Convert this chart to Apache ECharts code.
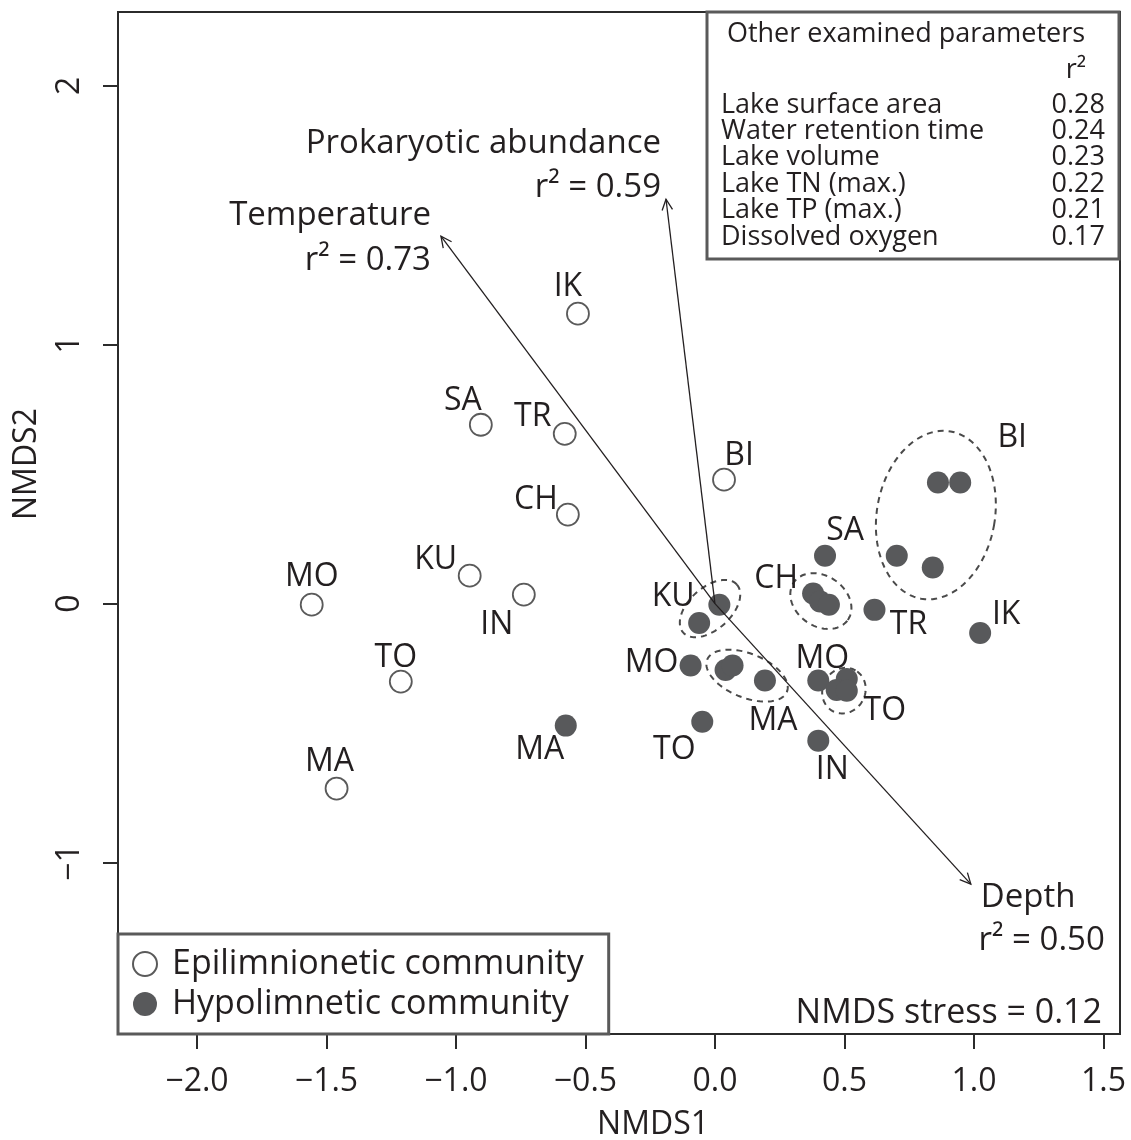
<!DOCTYPE html>
<html><head><meta charset="utf-8">
<script src="https://cdn.jsdelivr.net/npm/echarts@6/dist/echarts.min.js"></script>
<style>html,body{margin:0;padding:0;background:#fff}#c{width:1131px;height:1140px}</style>
</head><body><div id="c"></div>
<script>
// ---------------- data ----------------
const xTicks = [-2.0, -1.5, -1.0, -0.5, 0.0, 0.5, 1.0, 1.5];
const yTicks = [-1, 0, 1, 2];

const epiLakes = ['IK', 'SA', 'TR', 'CH', 'KU', 'IN', 'MO', 'TO', 'MA', 'BI'];
const epiX = [-0.529, -0.904, -0.580, -0.568, -0.947, -0.738, -1.557, -1.213, -1.461, 0.035];
const epiY = [1.120, 0.691, 0.656, 0.344, 0.108, 0.035, -0.004, -0.301, -0.714, 0.479];

const hypoLakes = ['BI','BI','BI','BI','SA','CH','CH','CH','TR','IK','KU','KU','MO','MA','MA','MA','MO','TO','TO','TO','TO','IN','MA'];
const hypoX = [0.861, 0.947, 0.702, 0.841, 0.425, 0.379, 0.406, 0.440, 0.616, 1.024, 0.017, -0.061, -0.094, 0.041, 0.068, 0.193, 0.399, 0.509, 0.470, 0.509, -0.049, 0.399, -0.576];
const hypoY = [0.468, 0.468, 0.185, 0.140, 0.185, 0.039, 0.008, -0.004, -0.024, -0.113, -0.004, -0.075, -0.239, -0.256, -0.239, -0.297, -0.297, -0.291, -0.333, -0.336, -0.456, -0.529, -0.471];

// fitted environmental vectors
const vecNames = ['Temperature', 'Prokaryotic abundance', 'Depth'];
const vecR2 = ['0.73', '0.59', '0.50'];
const vecX = [-1.058, -0.189, 0.988];
const vecY = [1.419, 1.562, -1.083];

// replicate ellipses (centre x, centre y, semi-axis a, semi-axis b, rotation in degrees)
const ellCx = [0.853, 0.409, -0.019, 0.124, 0.498];
const ellCy = [0.342, 0.010, -0.019, -0.278, -0.336];
const ellA  = [0.228, 0.127, 0.139, 0.166, 0.090];
const ellB  = [0.328, 0.097, 0.081, 0.085, 0.082];
const ellRot = [-10, -35, 42, -22, 60];

// other examined parameters
const otherParams = ['Lake surface area', 'Water retention time', 'Lake volume', 'Lake TN (max.)', 'Lake TP (max.)', 'Dissolved oxygen'];
const otherR2 = ['0.28', '0.24', '0.23', '0.22', '0.21', '0.17'];
const stressText = 'NMDS stress = 0.12';

// ---------------- layout (pixel offsets for labels) ----------------
const TEXT_DY = 4;
const epiLabelOffset = [[-10,-31],[-18,-28],[-32,-21],[-32,-19],[-34,-20],[-27,26],[0,-32],[-5,-28],[-7,-31],[15,-28]];
const hypoLabelOffset = {1:[52,-49],4:[20,-29],5:[-37,-19],8:[34,11],9:[26,-22],11:[-26,-30],12:[-39,-7],15:[8,36],16:[4,-26],19:[38,16],20:[-28,24],21:[14,25],22:[-26,20]};
const vecNameOffset = [[-10,-21,'right'],[-5,-56,'right'],[10,14,'left']];
const vecR2Offset = [[-10,24,'right'],[-5,-12,'right'],[134,57,'right']];

const FONT = '"Open Sans", "Noto Sans", sans-serif';
const TXT = '#231f20';
const BIG = 33;

const chart = echarts.init(document.getElementById('c'), null, {renderer: 'canvas'});

const epiData = epiX.map((x, i) => ({
  value: [x, epiY[i]], name: epiLakes[i],
  label: {show: true, offset: [epiLabelOffset[i][0], epiLabelOffset[i][1] + TEXT_DY]}
}));
const hypoData = hypoX.map((x, i) => {
  const off = hypoLabelOffset[i];
  return {value: [x, hypoY[i]], name: hypoLakes[i],
    label: off ? {show: true, offset: [off[0], off[1] + TEXT_DY]} : {show: false}};
});

const pointLabel = {
  position: 'inside', formatter: p => p.name, color: TXT,
  fontSize: 32, fontFamily: FONT
};

const fmtX = v => (v < 0 ? '\u2212' : '') + Math.abs(v).toFixed(1);
const fmtY = v => (v < 0 ? '\u2212' : '') + Math.abs(Math.round(v));

const option = {
  animation: false,
  backgroundColor: '#fff',
  grid: {left: 118, right: 11, top: 12, bottom: 106, containLabel: false, outerBoundsMode: 'none',
    show: true, borderColor: '#2b2b2b', borderWidth: 2, backgroundColor: 'transparent'},
  xAxis: {
    type: 'value', min: -2.305, max: 1.564,
    splitLine: {show: false}, axisLine: {show: false, onZero: false},
    axisTick: {show: true, length: 15, customValues: xTicks, lineStyle: {color: '#2b2b2b', width: 2}},
    axisLabel: {customValues: xTicks, formatter: fmtX, fontSize: 32, fontFamily: FONT, color: TXT, margin: 32},
    name: 'NMDS1', nameLocation: 'middle', nameGap: 75,
    nameTextStyle: {fontSize: 32, fontFamily: FONT, color: TXT, padding: [0, 0, 0, 68]}
  },
  yAxis: {
    type: 'value', min: -1.662, max: 2.285,
    splitLine: {show: false}, axisLine: {show: false, onZero: false},
    axisTick: {show: true, length: 15, customValues: yTicks, lineStyle: {color: '#2b2b2b', width: 2}},
    axisLabel: {customValues: yTicks, formatter: fmtY, rotate: 90, fontSize: 32, fontFamily: FONT, color: TXT, margin: 32},
    name: 'NMDS2', nameLocation: 'middle', nameGap: 75, nameRotate: 90,
    nameTextStyle: {fontSize: 32, fontFamily: FONT, color: TXT, padding: [0, 0, 0, 118]}
  },
  legend: {
    left: 118, top: 934, orient: 'vertical',
    data: ['Epilimnionetic community', 'Hypolimnetic community'],
    icon: 'circle', itemWidth: 24, itemHeight: 24, itemGap: 6,
    padding: [13, 25, 13, 14],
    backgroundColor: '#fff', borderColor: '#5a5a5a', borderWidth: 3,
    textStyle: {fontSize: 34, fontFamily: FONT, color: TXT, lineHeight: 34, padding: [0, 0, 0, 10]},
    z: 20
  },
  series: [
    {
      name: 'ellipses', type: 'custom', z: 3, silent: true,
      data: ellCx.map((c, i) => [c, ellCy[i], ellA[i], ellB[i], ellRot[i]]),
      encode: {x: 0, y: 1},
      renderItem: (params, api) => {
        const cx = api.value(0), cy = api.value(1), a = api.value(2), b = api.value(3);
        const th = api.value(4) * Math.PI / 180;
        const pts = [];
        for (let k = 0; k < 96; k++) {
          const t = k / 96 * 2 * Math.PI;
          const dx = a * Math.cos(t), dy = b * Math.sin(t);
          pts.push(api.coord([cx + dx * Math.cos(th) - dy * Math.sin(th), cy + dx * Math.sin(th) + dy * Math.cos(th)]));
        }
        return {type: 'polygon', shape: {points: pts},
          style: {fill: 'none', stroke: '#4a4a4a', lineWidth: 2, lineDash: [6, 5]}};
      }
    },
    {
      name: 'Epilimnionetic community', type: 'scatter', z: 4,
      symbol: 'circle', symbolSize: 22,
      itemStyle: {color: '#fff', borderColor: '#5a5a5a', borderWidth: 1.8, opacity: 1},
      label: pointLabel,
      data: epiData
    },
    {
      name: 'Hypolimnetic community', type: 'scatter', z: 4,
      symbol: 'circle', symbolSize: 22,
      itemStyle: {color: '#58595b', opacity: 1},
      label: pointLabel,
      data: hypoData
    },
    {
      name: 'vectors', type: 'custom', z: 5, silent: true,
      data: vecX.map((x, i) => [x, vecY[i], i]),
      encode: {x: 0, y: 1},
      renderItem: (params, api) => {
        const i = api.value(2);
        const o = api.coord([0, 0]);
        const p = api.coord([api.value(0), api.value(1)]);
        const ang = Math.atan2(p[1] - o[1], p[0] - o[0]);
        const L = 12, h = 0.45;
        const h1 = [p[0] - L * Math.cos(ang - h), p[1] - L * Math.sin(ang - h)];
        const h2 = [p[0] - L * Math.cos(ang + h), p[1] - L * Math.sin(ang + h)];
        const st = {stroke: '#231f20', lineWidth: 1.3, fill: 'none'};
        const no = vecNameOffset[i], ro = vecR2Offset[i];
        return {type: 'group', children: [
          {type: 'line', shape: {x1: o[0], y1: o[1], x2: p[0], y2: p[1]}, style: st},
          {type: 'polyline', shape: {points: [h1, p, h2]}, style: st},
          {type: 'text', x: p[0] + no[0], y: p[1] + no[1],
            style: {text: vecNames[i], fill: TXT, fontSize: BIG, fontFamily: FONT, align: no[2], verticalAlign: 'middle'}},
          {type: 'text', x: p[0] + ro[0], y: p[1] + ro[1],
            style: {text: 'r\u00b2 = ' + vecR2[i], fill: TXT, fontSize: BIG, fontFamily: FONT, align: ro[2], verticalAlign: 'middle'}}
        ]};
      }
    }
  ],
  graphic: [
    {type: 'rect', z: 30, shape: {x: 707, y: 12, width: 412, height: 247},
      style: {fill: '#fff', stroke: '#5a5a5a', lineWidth: 3}},
    {type: 'text', z: 31, x: 906, y: 34, style: {text: 'Other examined parameters', fill: TXT, fontSize: 27, fontFamily: FONT, align: 'center', verticalAlign: 'middle'}},
    {type: 'text', z: 31, x: 1076, y: 70, style: {text: 'r\u00b2', fill: TXT, fontSize: 27, fontFamily: FONT, align: 'center', verticalAlign: 'middle'}}
  ].concat(otherParams.map((t, i) => ({
    type: 'text', z: 31, x: 721, y: 105 + i * 26.4,
    style: {text: t, fill: TXT, fontSize: 27, fontFamily: FONT, align: 'left', verticalAlign: 'middle'}
  }))).concat(otherR2.map((t, i) => ({
    type: 'text', z: 31, x: 1105, y: 105 + i * 26.4,
    style: {text: t, fill: TXT, fontSize: 27, fontFamily: FONT, align: 'right', verticalAlign: 'middle'}
  }))).concat([
    {type: 'text', z: 31, x: 1102, y: 1013, style: {text: stressText, fill: TXT, fontSize: 34, fontFamily: FONT, align: 'right', verticalAlign: 'middle'}}
  ])
};
chart.setOption(option);
</script>
</body></html>
